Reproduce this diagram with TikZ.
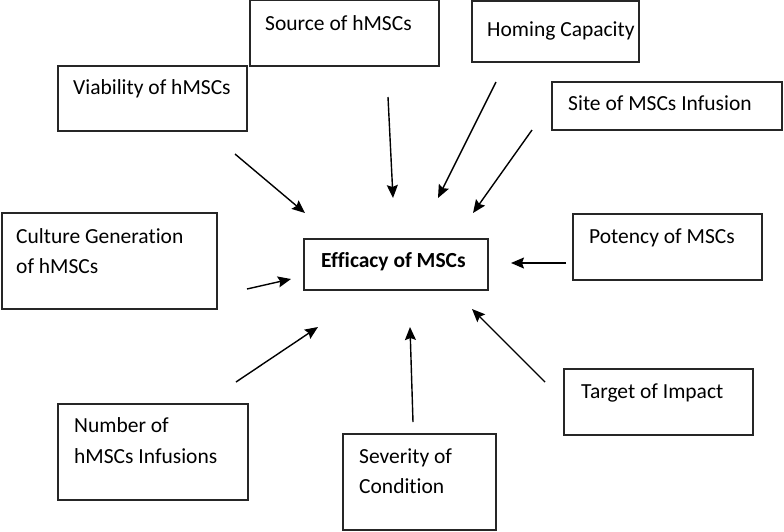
\documentclass[tikz,border=0pt]{standalone}
\usepackage{fontspec}
\setmainfont{Carlito}[Ligatures={NoCommon}]
\usetikzlibrary{arrows.meta}
\begin{document}
\begin{tikzpicture}[x=1pt,y=-1pt,
  box/.style={draw=black!85, line width=1.3pt, anchor=north west, inner sep=0pt, outer sep=0pt},
  lbl/.style={anchor=base west, inner sep=0pt, font=\fontsize{21.5}{26}\selectfont},
  arr/.style={line width=1.4pt, -{Stealth[length=13pt,width=11pt,inset=2pt]}}]
\useasboundingbox (0,0) rectangle (784,531);
% boxes
\node[box, minimum width=189pt, minimum height=66pt] (src) at (250,0) {};
\node[box, minimum width=167pt, minimum height=61pt] (hom) at (472,1) {};
\node[box, minimum width=189pt, minimum height=65pt] (via) at (58,66) {};
\node[box, minimum width=230pt, minimum height=48pt] (site) at (552,82) {};
\node[box, minimum width=215pt, minimum height=96pt] (cul) at (2,213) {};
\node[box, minimum width=184pt, minimum height=51pt] (eff) at (304,239) {};
\node[box, minimum width=189pt, minimum height=66pt] (pot) at (573,214) {};
\node[box, minimum width=189pt, minimum height=66pt] (tgt) at (564,369) {};
\node[box, minimum width=190pt, minimum height=96pt] (num) at (58,404) {};
\node[box, minimum width=153pt, minimum height=96pt] (sev) at (343,434) {};
% labels
\node[lbl] (tsrc) at (265,30) {Source of hMSCs};
\node[lbl] (thom) at (487,36) {Homing Capacity};
\node[lbl] (tvia) at (73,94) {Viability of hMSCs};
\node[lbl] (tsite) at (568,110) {Site of MSCs Infusion};
\node[lbl] (tcul1) at (16,243) {Culture Generation};
\node[lbl] (tcul2) at (16,273) {of hMSCs};
\node[lbl, font=\fontsize{21.5}{26}\selectfont\bfseries] (teff) at (321,267) {Efficacy of MSCs};
\node[lbl] (tpot) at (589,243) {Potency of MSCs};
\node[lbl] (ttgt) at (581,398) {Target of Impact};
\node[lbl] (tnum1) at (74,432) {Number of};
\node[lbl] (tnum2) at (74,463) {hMSCs Infusions};
\node[lbl] (tsev1) at (359,463) {Severity of};
\node[lbl] (tsev2) at (359,493) {Condition};
% arrow endpoints
\coordinate (a1s) at (235,154); \coordinate (a1e) at (305,213);
\coordinate (a2s) at (388,97);  \coordinate (a2e) at (393,198);
\coordinate (a3s) at (496,82);  \coordinate (a3e) at (438,198);
\coordinate (a4s) at (532,130); \coordinate (a4e) at (473,213);
\coordinate (a5s) at (566,263); \coordinate (a5e) at (511,263);
\coordinate (a6s) at (545,382); \coordinate (a6e) at (472,309);
\coordinate (a7s) at (413,422); \coordinate (a7e) at (410,327);
\coordinate (a8s) at (236,382); \coordinate (a8e) at (318,327);
\coordinate (a9s) at (247,289); \coordinate (a9e) at (291,279);
\foreach \i in {1,...,9} \draw[arr] (a\i s) -- (a\i e);
\end{tikzpicture}
\end{document}
